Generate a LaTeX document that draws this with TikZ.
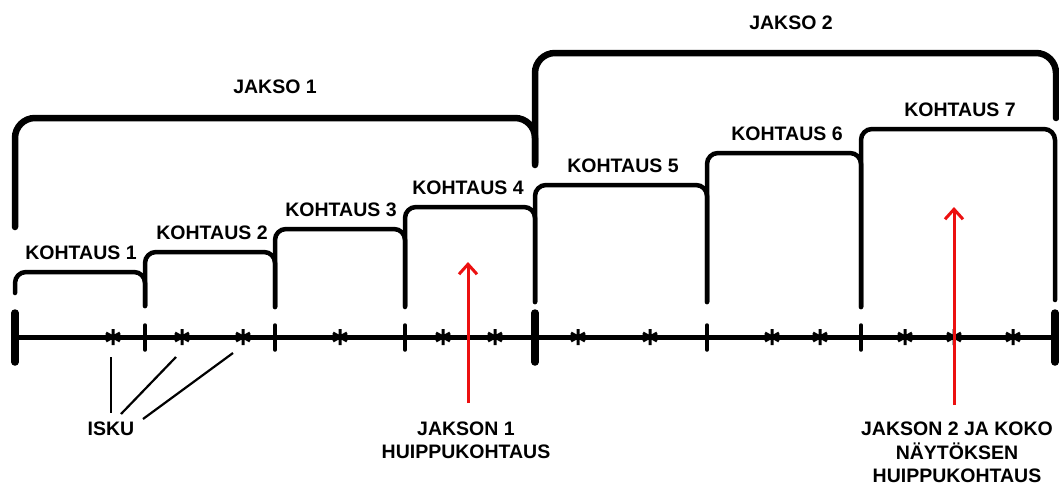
\documentclass[tikz,border=0pt]{standalone}
\usepackage{fontspec}
\setmainfont{Liberation Sans}
\usetikzlibrary{arrows.meta}
\definecolor{arrowred}{RGB}{236,16,16}
\begin{document}
\begin{tikzpicture}[x=1pt,y=-1pt,
  lbl/.style={font=\bfseries\fontsize{19.5}{23.5}\selectfont, inner sep=0pt, align=center},
  scenebr/.style={line width=4.5pt, rounded corners=11pt, line cap=round},
  actbr/.style={line width=6.5pt, rounded corners=20pt, line cap=round},
  axisline/.style={line width=5pt},
  bigtick/.style={line width=7.5pt, line cap=round},
  smalltick/.style={line width=3.5pt, line cap=round},
  beat/.style={line width=3pt},
  pointer/.style={line width=2.2pt},
  climax/.style={draw=arrowred, line width=3pt, -{Straight Barb[length=10pt,width=18pt,line width=3pt]}},
  beatmark/.pic={\draw[beat] (0,-8)--(0,8) (-7,-4)--(7,4) (-7,4)--(7,-4);}]
\useasboundingbox (0,0) rectangle (1059,485);

% act brackets
\draw[actbr] (15,227) -- (15,118) -- (535,118) -- (535,165);
\draw[actbr] (535,163) -- (535,53) -- (1056,53) -- (1056,118);

% scene brackets
\draw[scenebr] (15,293) -- (15,272) -- (145,272) -- (145,306);
\draw[scenebr] (145,306) -- (145,252) -- (275,252) -- (275,307);
\draw[scenebr] (275,307) -- (275,229) -- (405,229) -- (405,307);
\draw[scenebr] (405,306) -- (405,207) -- (535,207) -- (535,302);
\draw[scenebr] (535,302) -- (535,185) -- (707,185) -- (707,302);
\draw[scenebr] (707,302) -- (707,153) -- (861,153) -- (861,307);
\draw[scenebr] (861,307) -- (861,129) -- (1055,129) -- (1055,300);

% labels
\node[lbl] (jakso1) at (275,87) {JAKSO 1};
\node[lbl] (jakso2) at (791,23) {JAKSO 2};
\node[lbl] (k1) at (81,252.5) {KOHTAUS 1};
\node[lbl] (k2) at (212,232.5) {KOHTAUS 2};
\node[lbl] (k3) at (341,209.5) {KOHTAUS 3};
\node[lbl] (k4) at (468,187.5) {KOHTAUS 4};
\node[lbl] (k5) at (623,165.5) {KOHTAUS 5};
\node[lbl] (k6) at (787,133.5) {KOHTAUS 6};
\node[lbl] (k7) at (960,109.5) {KOHTAUS 7};

% axis
\coordinate (axL) at (15,337);
\coordinate (axM) at (535,337);
\coordinate (axR) at (1055,337);
\draw[axisline] (axL) -- (axR);
\foreach \x in {15,535,1055} \draw[bigtick] (\x,313) -- (\x,362);
\foreach \x in {145,275,405,707,861} \draw[smalltick] (\x,325) -- (\x,350);

% beats
\foreach \x [count=\i] in {113,182,243,340,443,495,578,650,772,820,905,954,1013}
  \coordinate (s\i) at (\x,337);
\foreach \i in {1,...,13} \pic at (s\i) {beatmark};

% ISKU
\node[lbl] (isku) at (111,429) {ISKU};
\coordinate (i1a) at (111,357); \coordinate (i1b) at (111,413);
\coordinate (i2a) at (176,357); \coordinate (i2b) at (121,414);
\coordinate (i3a) at (233,353); \coordinate (i3b) at (143,419);
\draw[pointer] (i1a) -- (i1b);
\draw[pointer] (i2a) -- (i2b);
\draw[pointer] (i3a) -- (i3b);

% climax arrows
\coordinate (c1base) at (468,403); \coordinate (c1tip) at (468,262);
\coordinate (c2base) at (954,405); \coordinate (c2tip) at (954,207);
\draw[climax] (c1base) -- (c1tip);
\draw[climax] (c2base) -- (c2tip);

\node[lbl] (climax1) at (466,440.5) {JAKSON 1\\HUIPPUKOHTAUS};
\node[lbl] (climax2) at (957,452.5) {JAKSON 2 JA KOKO\\NÄYTÖKSEN\\HUIPPUKOHTAUS};
\end{tikzpicture}
\end{document}
